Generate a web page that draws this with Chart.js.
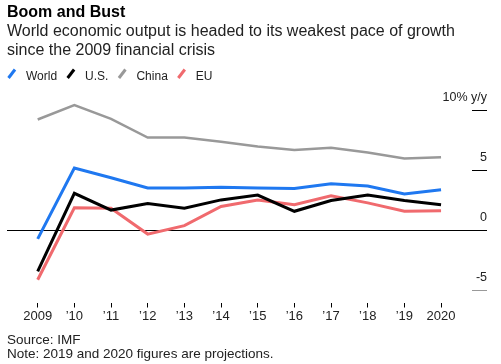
<!DOCTYPE html>
<html>
<head>
<meta charset="utf-8">
<script src="https://cdn.jsdelivr.net/npm/chart.js@4.4.1/dist/chart.umd.min.js"></script>
<style>
  html, body { margin: 0; padding: 0; background: #fff; }
  #wrap { position: relative; width: 501px; height: 364px; }
</style>
</head>
<body>
<div id="wrap"><canvas id="growthChart"></canvas></div>
<script>
const years = [2009, 2010, 2011, 2012, 2013, 2014, 2015, 2016, 2017, 2018, 2019, 2020];
const world = [-0.7, 5.2, 4.4, 3.55, 3.55, 3.6, 3.55, 3.5, 3.9, 3.7, 3.05, 3.4];
const us = [-3.4, 3.1, 1.7, 2.25, 1.85, 2.55, 2.95, 1.6, 2.5, 2.95, 2.5, 2.15];
const china = [9.25, 10.45, 9.3, 7.75, 7.75, 7.4, 7.0, 6.7, 6.9, 6.5, 6.0, 6.1];
const eu = [-4.1, 1.9, 1.85, -0.3, 0.4, 2.0, 2.55, 2.15, 2.9, 2.3, 1.6, 1.65];
const yTicks = [-5, 0, 5, 10];

const FONT = "'Liberation Sans', Arial, sans-serif";

const toPoints = (vals) => years.map((yr, i) => ({ x: yr, y: vals[i] }));

// slanted line swatches + label, drawn under the subtitle
const lineLegend = {
  id: "lineLegend",
  afterDraw(chart) {
    const ctx = chart.ctx;
    const y = 79.5;
    let x = 7;
    ctx.save();
    ctx.font = "12px " + FONT;
    ctx.textBaseline = "alphabetic";
    chart.data.datasets.forEach((ds) => {
      ctx.strokeStyle = ds.borderColor;
      ctx.lineWidth = 3;
      ctx.beginPath();
      ctx.moveTo(x + 1.5, y - 1.5);
      ctx.lineTo(x + 8, y - 10);
      ctx.stroke();
      ctx.fillStyle = "#222";
      ctx.fillText(ds.label, x + 19, y);
      x += 19 + ctx.measureText(ds.label).width + 9;
    });
    ctx.restore();
  },
};

// source and note lines at the bottom
const footNotes = {
  id: "footNotes",
  afterDraw(chart) {
    const ctx = chart.ctx;
    ctx.save();
    ctx.font = "13.5px " + FONT;
    ctx.fillStyle = "#222";
    ctx.textBaseline = "alphabetic";
    ctx.fillText("Source: IMF", 7, chart.height - 20);
    ctx.fillText("Note: 2019 and 2020 figures are projections.", 7, chart.height - 6);
    ctx.restore();
  },
};

const data = {
  datasets: [
    { label: "World", data: toPoints(world), borderColor: "#1f78f0", borderWidth: 3 },
    { label: "U.S.", data: toPoints(us), borderColor: "#000000", borderWidth: 3 },
    { label: "China", data: toPoints(china), borderColor: "#999999", borderWidth: 2.5 },
    { label: "EU", data: toPoints(eu), borderColor: "#f06a6e", borderWidth: 3 },
  ],
};

const options = {
  responsive: true,
  maintainAspectRatio: false,
  animation: false,
  // right padding is negative because the mirrored y labels' padding is counted twice in the axis width
  layout: { padding: { left: 7, right: -16, top: 0, bottom: 38.9 } },
  elements: {
    point: { radius: 0 },
    line: { tension: 0, borderJoinStyle: "miter", fill: false },
  },
  scales: {
    x: {
      type: "linear",
      min: 2008.163,
      max: 2020.844,
      afterBuildTicks: (scale) => {
        scale.ticks = years.map((v) => ({ value: v }));
      },
      border: { display: false },
      grid: {
        drawOnChartArea: false,
        drawTicks: true,
        tickLength: 5,
        tickColor: "#000",
        tickWidth: 1,
      },
      ticks: {
        autoSkip: false,
        maxRotation: 0,
        padding: 1,
        color: "#222",
        font: { family: FONT, size: 13 },
        callback: (v) => (v === 2009 || v === 2020 ? String(v) : "\u2019" + String(v).slice(2)),
      },
    },
    y: {
      position: "right",
      min: -6,
      max: 11.5,
      afterBuildTicks: (scale) => {
        scale.ticks = yTicks.map((v) => ({ value: v }));
      },
      border: { display: false },
      grid: {
        drawTicks: true,
        tickLength: 15,
        lineWidth: 1,
        color: (c) => (c.tick && c.tick.value === 0 ? "#000" : "rgba(0,0,0,0)"),
        tickColor: (c) => (c.tick && c.tick.value === -5 ? "#999" : "#000"),
      },
      ticks: {
        mirror: true,
        padding: 15,
        labelOffset: -13,
        color: "#222",
        font: { family: FONT, size: 12.5 },
        callback: (v) => (v === 10 ? "10% y/y" : String(v)),
      },
    },
  },
  plugins: {
    legend: { display: false },
    tooltip: { enabled: false },
    title: {
      display: true,
      text: "Boom and Bust",
      align: "start",
      color: "#000",
      font: { family: FONT, size: 16, weight: "bold", lineHeight: 1.2 },
      padding: { top: 3, bottom: 0 },
    },
    subtitle: {
      display: true,
      text: [
        "World economic output is headed to its weakest pace of growth",
        "since the 2009 financial crisis",
      ],
      align: "start",
      color: "#222",
      font: { family: FONT, size: 16, lineHeight: 1.1875 },
      padding: { top: 0, bottom: 32.3 },
    },
  },
};

new Chart(document.getElementById("growthChart").getContext("2d"), {
  type: "line",
  data: data,
  options: options,
  plugins: [lineLegend, footNotes],
});
</script>
</body>
</html>
